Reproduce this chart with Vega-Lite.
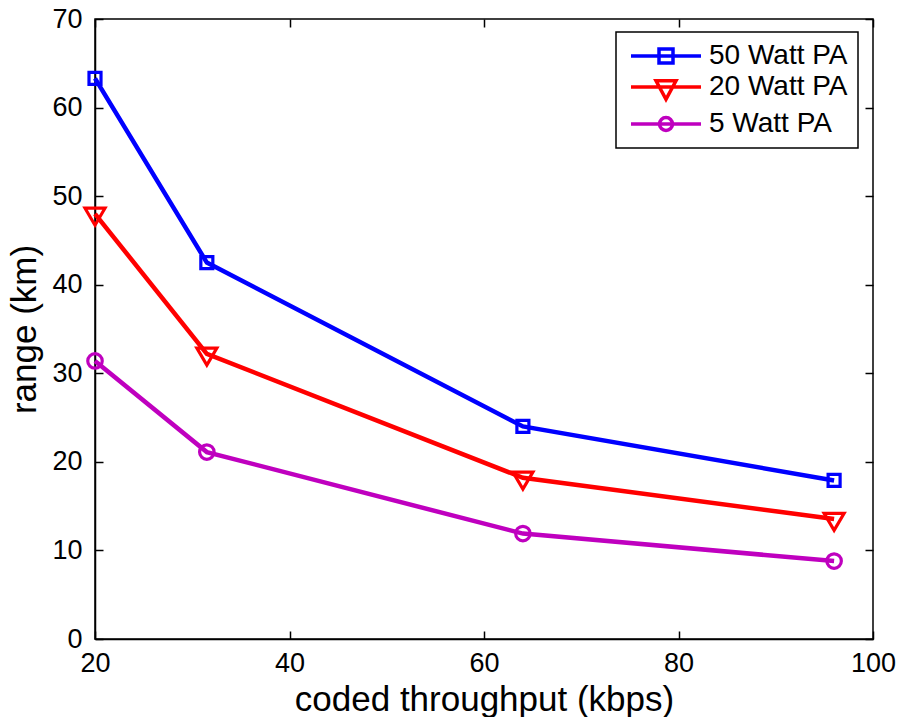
{
  "$schema": "https://vega.github.io/schema/vega-lite/v6.json",
  "width": 778,
  "height": 620,
  "autosize": {"type": "none"},
  "padding": {"left": 95, "top": 19, "right": 28, "bottom": 78},
  "background": "white",
  "config": {
    "view": {"stroke": "black", "strokeWidth": 1.5},
    "font": "Liberation Sans",
    "axis": {
      "grid": false,
      "domainColor": "black",
      "domainWidth": 1.5,
      "tickColor": "black",
      "tickWidth": 1.5,
      "tickSize": -8,
      "labelColor": "black",
      "labelFont": "Liberation Sans",
      "labelFontSize": 27,
      "titleFont": "Liberation Sans",
      "titleFontSize": 35,
      "titleFontWeight": "normal",
      "titleColor": "black"
    }
  },
  "data": {
    "values": [
      {"x": 20, "range": 63.3, "series": "50 Watt PA"},
      {"x": 31.5, "range": 42.5, "series": "50 Watt PA"},
      {"x": 64, "range": 24.0, "series": "50 Watt PA"},
      {"x": 96, "range": 17.9, "series": "50 Watt PA"},
      {"x": 20, "range": 48.0, "series": "20 Watt PA"},
      {"x": 31.5, "range": 32.2, "series": "20 Watt PA"},
      {"x": 64, "range": 18.2, "series": "20 Watt PA"},
      {"x": 96, "range": 13.55, "series": "20 Watt PA"},
      {"x": 20, "range": 31.4, "series": "5 Watt PA"},
      {"x": 31.5, "range": 21.1, "series": "5 Watt PA"},
      {"x": 64, "range": 11.9, "series": "5 Watt PA"},
      {"x": 96, "range": 8.8, "series": "5 Watt PA"}
    ]
  },
  "layer": [
    {
      "mark": {"type": "line", "strokeWidth": 4.5},
      "encoding": {
        "x": {
          "field": "x", "type": "quantitative",
          "scale": {"domain": [20, 100], "nice": false, "zero": false},
          "axis": {"orient": "bottom", "values": [20, 40, 60, 80, 100], "title": "coded throughput (kbps)", "labelPadding": 19, "titlePadding": 6, "labelFlush": false}
        },
        "y": {
          "field": "range", "type": "quantitative",
          "scale": {"domain": [0, 70], "nice": false},
          "axis": {"orient": "left", "values": [0, 10, 20, 30, 40, 50, 60, 70], "title": "range (km)", "labelPadding": 21, "titlePadding": 9, "labelFlush": false}
        },
        "color": {
          "field": "series", "type": "nominal",
          "scale": {"domain": ["50 Watt PA", "20 Watt PA", "5 Watt PA"], "range": ["#0000ff", "#ff0000", "#bf00bf"]},
          "legend": {
            "orient": "none",
            "legendX": 521,
            "legendY": 13,
            "title": null,
            "strokeColor": "black",
            "fillColor": "white",
            "padding": 10,
            "labelFont": "Liberation Sans",
            "labelFontSize": 28,
            "labelColor": "black",
            "symbolSize": 400,
            "symbolOffset": 26,
            "labelOffset": 29,
            "rowPadding": 3,
            "encode": {
              "legend": {"update": {"strokeWidth": {"value": 1.5}}},
              "symbols": {
                "update": {
                  "shape": {"signal": "datum.value === '50 Watt PA' ? 'M-3.5,0H3.5M-0.7,-0.7H0.7V0.7H-0.7Z' : datum.value === '20 Watt PA' ? 'M-3.5,0H3.5M-1,-0.62H1L0,1.24Z' : 'M-3.5,0H3.5M-0.65,0A0.65,0.65,0,1,0,0.65,0A0.65,0.65,0,1,0,-0.65,0Z'"},
                  "size": {"value": 400},
                  "fill": {"value": "transparent"},
                  "stroke": {"signal": "scale('color', datum.value)"},
                  "strokeWidth": {"value": 3.5},
                  "opacity": {"value": 1}
                }
              }
            }
          }
        }
      }
    },
    {
      "transform": [{"filter": "datum.series === '50 Watt PA'"}],
      "mark": {"type": "point", "filled": false, "strokeWidth": 3.2, "size": 100, "opacity": 1, "stroke": "#0000ff", "shape": "M-1.2,-1.2H1.2V1.2H-1.2Z"},
      "encoding": {
        "x": {"field": "x", "type": "quantitative", "axis": null},
        "y": {"field": "range", "type": "quantitative", "axis": null}
      }
    },
    {
      "transform": [{"filter": "datum.series === '20 Watt PA'"}],
      "mark": {"type": "point", "filled": false, "strokeWidth": 3.2, "size": 100, "opacity": 1, "stroke": "#ff0000", "shape": "M-2,-1.13H2L0,2.27Z"},
      "encoding": {
        "x": {"field": "x", "type": "quantitative", "axis": null},
        "y": {"field": "range", "type": "quantitative", "axis": null}
      }
    },
    {
      "transform": [{"filter": "datum.series === '5 Watt PA'"}],
      "mark": {"type": "point", "filled": false, "strokeWidth": 3.2, "size": 100, "opacity": 1, "stroke": "#bf00bf", "shape": "M-1.45,0A1.45,1.45,0,1,0,1.45,0A1.45,1.45,0,1,0,-1.45,0Z"},
      "encoding": {
        "x": {"field": "x", "type": "quantitative", "axis": null},
        "y": {"field": "range", "type": "quantitative", "axis": null}
      }
    },
    {
      "mark": {"type": "point", "opacity": 0},
      "encoding": {
        "x": {"field": "x", "type": "quantitative", "axis": {"orient": "top", "values": [20, 40, 60, 80, 100], "labels": false, "title": null, "domain": false}},
        "y": {"field": "range", "type": "quantitative", "axis": {"orient": "right", "values": [0, 10, 20, 30, 40, 50, 60, 70], "labels": false, "title": null, "domain": false}}
      }
    }
  ],
  "resolve": {"axis": {"x": "independent", "y": "independent"}}
}
